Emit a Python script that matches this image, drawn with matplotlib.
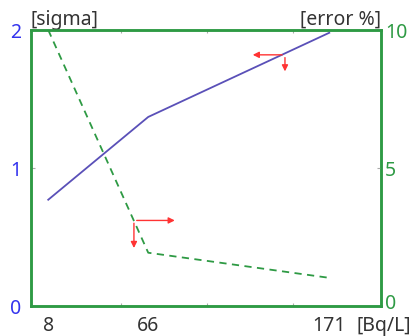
import numpy as np
import matplotlib
matplotlib.use('Agg')
import matplotlib.pyplot as plt
from matplotlib.transforms import ScaledTranslation

plt.rcParams['font.family'] = ['Noto Sans', 'DejaVu Sans']

# dane
conc = [8, 66, 171]            # [Bq/L]
sigma = [0.77, 1.37, 1.98]     # lewa os
error = [10.0, 1.93, 1.02]     # prawa os [%]
x_labels = ['8', '66', '171']

blue = '#5a50b8'
blue_txt = '#3333ee'
green = '#2e9a44'
red = '#ff3333'
gray = '#333333'
fs = 14

fig = plt.figure(figsize=(4.14, 3.36), dpi=100)
ax = fig.add_axes([31/414, 30/336, 350/414, 276/336])
ax2 = ax.twinx()

ax.plot(conc, sigma, color=blue, lw=1.3, zorder=3)
ax2.plot(conc, error, color=green, lw=1.3, ls=(0, (4, 3)))

ax.set_xlim(-2, 201)
ax.set_ylim(0, 2)
ax2.set_ylim(0, 10)

ax.set_xticks([50, 100, 150])
ax.set_xticklabels([])
ax.tick_params(axis='x', direction='in', length=2, width=0.8, color='#aaaaaa', top=True)
ax.set_yticks([0, 1, 2])
ax.set_yticklabels(['0', '1', '2'], color=blue_txt, fontsize=fs)
ax.tick_params(axis='y', direction='in', length=3, width=0.8, color='#aaaaaa', pad=7)
ax2.set_yticks([0, 5, 10])
ax2.set_yticklabels(['0', '5', '10'], color=green, fontsize=fs)
ax2.tick_params(axis='y', direction='in', length=3, width=0.8, color='#aaaaaa', pad=3)

# prawe "0" troche wyzej
lab0 = ax2.get_yticklabels()[0]
lab0.set_transform(lab0.get_transform() + ScaledTranslation(0, 3/72, fig.dpi_scale_trans))

for a in (ax, ax2):
    for s in a.spines.values():
        s.set_color(green)
        s.set_linewidth(1.8)

# etykiety osi x jako tekst
for v, t in zip(conc, x_labels):
    ax.text(v, -0.035, t, transform=ax.get_xaxis_transform(), ha='center', va='top',
            fontsize=fs, color=gray)
ax.text(187, -0.035, '[Bq/L]', transform=ax.get_xaxis_transform(), ha='left', va='top',
        fontsize=fs, color=gray)

ax.text(0.0, 1.0, '[sigma]', transform=ax.transAxes, ha='left', va='bottom',
        fontsize=fs, color=gray)
ax.text(1.0, 1.0, '[error %]', transform=ax.transAxes, ha='right', va='bottom',
        fontsize=fs, color=gray)

# strzalki
arr = dict(arrowstyle='-|>', color=red, lw=1.0, mutation_scale=9)
ax.annotate('', xy=(125, 1.82), xytext=(145.3, 1.82), arrowprops=arr)
ax.annotate('', xy=(145.3, 1.68), xytext=(145.3, 1.82), arrowprops=arr)
ax.annotate('', xy=(83, 0.62), xytext=(57.7, 0.62), arrowprops=arr)
ax.annotate('', xy=(57.7, 0.40), xytext=(57.7, 0.62), arrowprops=arr)

fig.savefig('out.png', dpi=100)
